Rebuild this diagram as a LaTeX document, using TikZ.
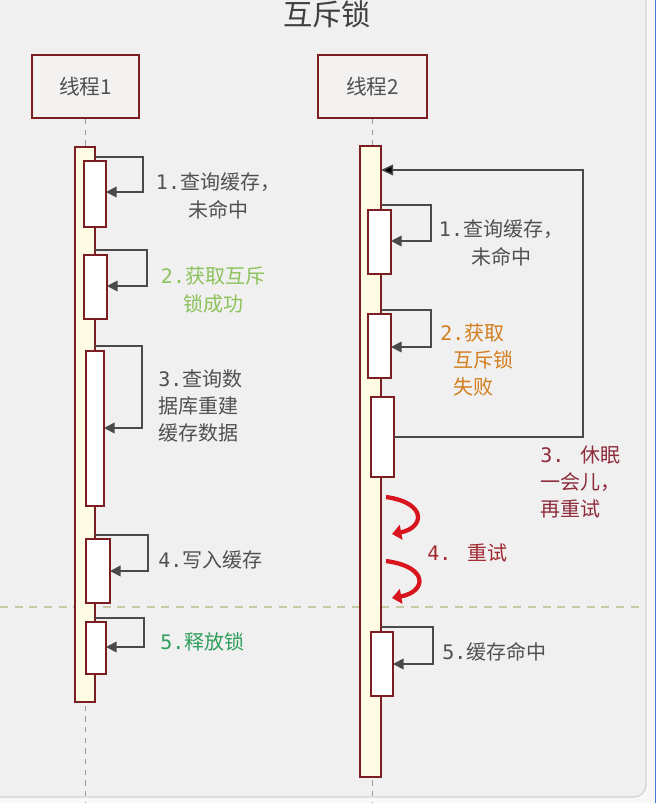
\documentclass[tikz,border=0pt]{standalone}
\usepackage{fontspec}
\setmainfont{Noto Sans CJK SC}
\newfontfamily\monodg{DejaVu Sans Mono}
\usetikzlibrary{arrows.meta}
\newcommand\stepno[1]{{\monodg #1}}

\definecolor{panelbg}{HTML}{F0F0F0}
\definecolor{outerbg}{HTML}{F8F8F8}
\definecolor{edgegray}{HTML}{D4D4D4}
\definecolor{edgeblue}{HTML}{4A78D8}
\definecolor{boxred}{HTML}{7A1E22}
\definecolor{boxfill}{HTML}{F4F1F1}
\definecolor{barfill}{HTML}{FFFCE6}
\definecolor{msggray}{HTML}{4A4A4A}
\definecolor{textgray}{HTML}{505050}
\definecolor{lightgreen}{HTML}{8CC25A}
\definecolor{darkgreen}{HTML}{2E9E5C}
\definecolor{orangetxt}{HTML}{D27D1E}
\definecolor{winered}{HTML}{8E2C3C}
\definecolor{retryred}{HTML}{A3272F}
\definecolor{arrowred}{HTML}{D8141E}
\definecolor{sepline}{HTML}{C6C9A2}
\definecolor{lifegray}{HTML}{9A9A9A}

\tikzset{
  thread/.style={draw=boxred, line width=1.5pt, fill=boxfill, inner sep=0pt,
    minimum height=47.25pt, font=\fontsize{15.5pt}{18pt}\selectfont, text=textgray},
  lifebar/.style={draw=boxred, line width=1.1pt, fill=barfill, inner sep=0pt, outer sep=0pt},
  act/.style={draw=boxred, line width=1.1pt, fill=white, inner sep=0pt, outer sep=0pt},
  life/.style={draw=lifegray, line width=0.8pt, dash pattern=on 4pt off 4pt},
  msg/.style={draw=msggray, line width=1.3pt,
    -{Triangle[length=8pt,width=8pt]}},
  loopline/.style={draw=msggray, line width=1.1pt,
    -{Triangle[length=9pt,width=8pt,fill=black]}},
  lbl/.style={font=\fontsize{15pt}{20.5pt}\selectfont, inner sep=0pt},
  retry/.style={draw=arrowred, line width=3.2pt,
    -{Triangle[length=7pt,width=11pt]}},
}

\begin{document}
\begin{tikzpicture}[x=0.75pt, y=-0.75pt]
\useasboundingbox (0,0) rectangle (663,803);

% page and panel
\fill[outerbg] (0,0) rectangle (663,803);
\filldraw[fill=panelbg, draw=edgegray, line width=1pt, rounded corners=9pt]
  (-20,-20) rectangle (646,797);
\fill[white] (656,0) rectangle (663,803);
\draw[edgeblue, line width=1pt] (655.5,0) -- (655.5,803);

% title
\node[font=\fontsize{22pt}{26pt}\selectfont, text=black!75] (title) at (327,14) {互斥锁};

% threads
\node[thread, minimum width=80.25pt] (t1) at (85.5,86.5) {线程1};
\node[thread, minimum width=81.75pt] (t2) at (372.5,86.5) {线程2};
\draw[life] (t1.south) -- (t1.south |- 0,803);
\draw[life] (t2.south) -- (t2.south |- 0,803);

% separator
\coordinate (sepL) at (0,607);
\coordinate (sepR) at (645,607);
\draw[sepline, line width=0.9pt, dash pattern=on 6pt off 5pt] (sepL) -- (sepR);

% thread 1 lifetime and activations
\node[lifebar, minimum width=15pt, minimum height=416.25pt] (bar1) at (85,424.5) {};
\node[act, minimum width=16.5pt, minimum height=49.5pt] (a1) at (95,194) {};
\node[act, minimum width=17.25pt, minimum height=48pt] (a2) at (95.5,287) {};
\node[act, minimum width=13.5pt, minimum height=116.25pt] (a3) at (95,428.5) {};
\node[act, minimum width=18pt, minimum height=48pt] (a4) at (98,571) {};
\node[act, minimum width=15pt, minimum height=39pt] (a5) at (96,648) {};

% thread 2 lifetime and activations
\node[lifebar, minimum width=15.75pt, minimum height=473.25pt] (bar2) at (370.5,461.5) {};
\node[act, minimum width=17.25pt, minimum height=48pt] (b1) at (379.5,242) {};
\node[act, minimum width=17.25pt, minimum height=48pt] (b2) at (379.5,346) {};
\node[act, minimum width=17.25pt, minimum height=60pt] (b3) at (382.5,437) {};
\node[act, minimum width=16.5pt, minimum height=48pt] (b5) at (382,664) {};

% thread 1 self messages
\draw[msg] (bar1.east |- 0,157) -- (143,157) -- (143,192) -- (a1.east |- 0,192);
\draw[msg] (bar1.east |- 0,250) -- (147,250) -- (147,286) -- (a2.east |- 0,286);
\draw[msg] (bar1.east |- 0,346) -- (142,346) -- (142,428) -- (a3.east |- 0,428);
\draw[msg] (bar1.east |- 0,535) -- (148,535) -- (148,571) -- (a4.east |- 0,571);
\draw[msg] (bar1.east |- 0,618) -- (144,618) -- (144,647) -- (a5.east |- 0,647);

% thread 2 self messages
\draw[msg] (bar2.east |- 0,205) -- (431,205) -- (431,241) -- (b1.east |- 0,241);
\draw[msg] (bar2.east |- 0,310) -- (431,310) -- (431,347) -- (b2.east |- 0,347);
\draw[msg] (bar2.east |- 0,627) -- (433,627) -- (433,664) -- (b5.east |- 0,664);

% retry loop back to the top
\draw[loopline] (b3.east) -- (583,437) -- (583,170) -- (bar2.east |- 0,170);

% retry arrows
\coordinate (r1s) at (386,497);
\coordinate (r1e) at (392,534);
\coordinate (r2s) at (386,561);
\coordinate (r2e) at (392,598);
\draw[retry] (r1s) .. controls (428,503) and (424,528) .. (r1e);
\draw[retry] (r2s) .. controls (430,567) and (426,592) .. (r2e);

% thread 1 labels
\node[lbl, text=textgray, align=center] (la1) at (218,196) {\stepno{1.}查询缓存，\\未命中};
\node[lbl, text=lightgreen, align=center] (la2) at (213,290) {\stepno{2.}获取互斥\\锁成功};
\node[lbl, text=textgray, align=left, anchor=west] (la3) at (158,406) {\stepno{3.}查询数\\据库重建\\缓存数据};
\node[lbl, text=textgray, anchor=west] (la4) at (158,560) {\stepno{4.}写入缓存};
\node[lbl, text=darkgreen, anchor=west] (la5) at (160,642) {\stepno{5.}释放锁};

% thread 2 labels
\node[lbl, text=textgray, align=center] (lb1) at (501,243) {\stepno{1.}查询缓存，\\未命中};
\node[lbl, text=orangetxt, align=left, anchor=west] (lb2) at (440,360)
  {\stepno{2.}获取\\\hspace*{9.75pt}互斥锁\\\hspace*{9.75pt}失败};
\node[lbl, text=winered, align=left, anchor=west] (lb3) at (540,482)
  {\stepno{3. }休眠\\一会儿，\\再重试};
\node[lbl, text=retryred, anchor=west] (lb4) at (427,553) {\stepno{4. }重试};
\node[lbl, text=textgray, anchor=west] (lb5) at (442,652) {\stepno{5.}缓存命中};
\end{tikzpicture}
\end{document}
